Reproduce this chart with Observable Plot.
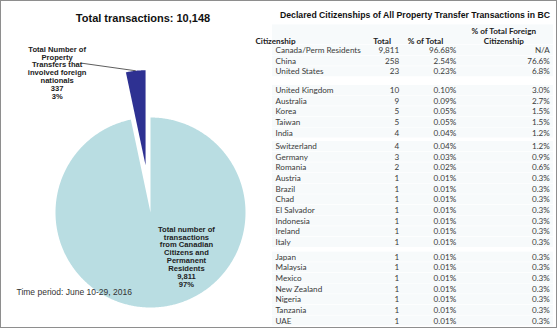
<!DOCTYPE html>
<html><head><meta charset="utf-8">
<script src="https://cdn.jsdelivr.net/npm/d3@7"></script>
<script src="https://cdn.jsdelivr.net/npm/@observablehq/plot@0.6"></script>
<style>
html,body{margin:0;padding:0;background:#fff;}
#frame{position:relative;width:560px;height:331px;overflow:hidden;background:#fff;}
#border{position:absolute;left:0;top:0;width:555px;height:326px;border:1.5px solid #8e8e8e;pointer-events:none;}
#pie{position:absolute;left:0;top:0;}
#table{position:absolute;left:270px;top:0;}
svg{overflow:visible;}
</style></head><body>
<div id="frame"><div id="pie"></div><div id="table"></div><div id="border"></div></div>
<script>
// ---- Pie data ----
const sliceNames = ["Foreign nationals", "Canadian Citizens and Permanent Residents"];
const sliceValues = [337, 9811];
const sliceLabels = [
  "Total Number of\nProperty\nTransfers that\ninvolved foreign\nnationals\n337\n3%",
  "Total number of\ntransactions\nfrom Canadian\nCitizens and\nPermanent\nResidents\n9,811\n97%"
];
const sliceColors = ["#2e3192", "#b9dde2"];
const chartTitle = "Total transactions: 10,148";
const timePeriod = "Time period: June 10-29, 2016";

// ---- Table data ----
const tableTitle = "Declared Citizenships of All Property Transfer Transactions in BC";
const columnHeaders = ["Citizenship", "Total", "% of Total", "% of Total Foreign\nCitizenship"];
const citizenships = ["Canada/Perm Residents","China","United States","United Kingdom","Australia","Korea","Taiwan","India","Switzerland","Germany","Romania","Austria","Brazil","Chad","El Salvador","Indonesia","Ireland","Italy","Japan","Malaysia","Mexico","New Zealand","Nigeria","Tanzania","UAE"];
const totals = ["9,811","258","23","10","9","5","5","4","4","3","2","1","1","1","1","1","1","1","1","1","1","1","1","1","1"];
const pctTotal = ["96.68%","2.54%","0.23%","0.10%","0.09%","0.05%","0.05%","0.04%","0.04%","0.03%","0.02%","0.01%","0.01%","0.01%","0.01%","0.01%","0.01%","0.01%","0.01%","0.01%","0.01%","0.01%","0.01%","0.01%","0.01%"];
const pctForeign = ["N/A","76.6%","6.8%","3.0%","2.7%","1.5%","1.5%","1.2%","1.2%","0.9%","0.6%","0.3%","0.3%","0.3%","0.3%","0.3%","0.3%","0.3%","0.3%","0.3%","0.3%","0.3%","0.3%","0.3%","0.3%"];
const groupStarts = [3, 8, 18];

// ================= PIE =================
const W = 270, H = 331, R = 95, CX = 150, CY = 212;
const total = d3.sum(sliceValues);
const a0 = 2 * Math.PI * sliceValues[0] / total;
const arcs = d3.pie().sort(null).startAngle(-a0).endAngle(2 * Math.PI - a0)(sliceValues);
const explode = [0.5, 0];
const slicePts = arcs.map((a, i) => {
  const mid = (a.startAngle + a.endAngle) / 2;
  const ox = explode[i] * Math.sin(mid), oy = explode[i] * Math.cos(mid);
  const pts = [{x: ox, y: oy}];
  const n = Math.max(4, Math.ceil((a.endAngle - a.startAngle) / (Math.PI / 360)));
  for (let k = 0; k <= n; k++) {
    const t = a.startAngle + (a.endAngle - a.startAngle) * k / n;
    pts.push({x: ox + Math.sin(t), y: oy + Math.cos(t)});
  }
  return {pts, mid, ox, oy};
});
// leader for foreign slice
const s0 = slicePts[0];
const leaderEnd = {x: s0.ox + Math.sin(s0.mid), y: s0.oy + Math.cos(s0.mid)};
const leaderStart = {x: leaderEnd.x - 54 / R, y: leaderEnd.y + 7.6 / R};
const s1 = slicePts[1];
const mainLabelPos = {x: 0.5 * Math.sin(s1.mid), y: 0.5 * Math.cos(s1.mid)};

const pie = Plot.plot({
  width: W, height: H, margin: 0,
  x: {domain: [-CX / R, (W - CX) / R], range: [0, W], axis: null},
  y: {domain: [-(H - CY) / R, CY / R], range: [H, 0], axis: null},
  style: {fontFamily: "'Liberation Sans', Arial, sans-serif", background: "transparent"},
  marks: [
    ...slicePts.map((s, i) => Plot.line(s.pts, {x: "x", y: "y", fill: sliceColors[i], stroke: "none", curve: "linear-closed"})),
    Plot.link([0], {x1: () => leaderStart.x, y1: () => leaderStart.y, x2: () => leaderEnd.x, y2: () => leaderEnd.y, stroke: "#333", strokeWidth: 0.8}),
    Plot.text([sliceLabels[0]], {x: () => leaderStart.x, y: () => leaderStart.y, text: d => d, dx: -24.5, dy: 9.6, fontSize: 7.6, fontWeight: "bold", lineHeight: 1.04, textAnchor: "middle", lineAnchor: "middle", fill: "#222"}),
    Plot.text([sliceLabels[1]], {x: () => mainLabelPos.x, y: () => mainLabelPos.y, text: d => d, dx: 31, dy: -3, fontSize: 7.6, fontWeight: "bold", lineHeight: 1.04, textAnchor: "middle", lineAnchor: "middle", fill: "#222"}),
    Plot.text([chartTitle], {frameAnchor: "top", dx: 7.5, dy: 18.3, lineAnchor: "middle", fontSize: 11, fontWeight: "bold", fill: "#111"}),
    Plot.text([timePeriod], {frameAnchor: "bottom-left", dx: 16, dy: -39, lineAnchor: "middle", textAnchor: "start", fontSize: 8.5, fill: "#333"})
  ]
});
document.getElementById("pie").appendChild(pie);

// ================= TABLE =================
const TW = 290, TX0 = 270, ROW = 10.65, Y0 = 50;
const gapExtra = [0.75, 0.27, 0.38];
const rowPos = citizenships.map((_, i) => {
  let g = 0;
  groupStarts.forEach((s, k) => { if (i >= s) g += gapExtra[k]; });
  return i + g;
});
const rows = citizenships.map((c, i) => ({c, t: totals[i], p: pctTotal[i], f: pctForeign[i], pos: rowPos[i]}));
const colX = {name: 275, total: 398.7, pct: 455.7, foreign: 549.3};
const headX = [275, 381.7, 425, 503.3];
const headers = columnHeaders.map((h, i) => ({h, x: headX[i], anchor: i === 0 ? "start" : "middle"}));
const tableFont = "Lato, 'Noto Sans', sans-serif";
const FS = 8.15;

const table = Plot.plot({
  width: TW, height: H, margin: 0,
  x: {domain: [TX0, TX0 + TW], range: [0, TW], axis: null},
  y: {domain: [-Y0 / ROW, (H - Y0) / ROW], range: [0, H], axis: null},
  style: {fontFamily: tableFont, background: "transparent"},
  marks: [
    Plot.rect(rows, {x1: 272, x2: 553, y1: d => d.pos - 0.47, y2: d => d.pos + 0.47, fill: "#f7fafb"}),
    Plot.rect([0], {x1: 272, x2: 553, y1: -2.4, y2: -0.53, fill: "#f7fafb"}),
    Plot.text([tableTitle], {x: 414.5, y: (15 - Y0) / ROW, text: d => d, fontFamily: "'Liberation Sans', Arial, sans-serif", fontWeight: "bold", fontSize: 8.7, fill: "#111", textAnchor: "middle"}),
    Plot.text(headers, {x: "x", y: -1, text: "h", textAnchor: d => d.anchor, lineAnchor: "bottom", dy: 4, fontWeight: "bold", fontSize: FS, lineHeight: 1.2, fill: "#222"}),
    Plot.text(rows, {x: colX.name, y: "pos", text: "c", textAnchor: "start", fontSize: FS, fill: "#3a3a3a"}),
    Plot.text(rows, {x: colX.total, y: "pos", text: "t", textAnchor: "end", fontSize: FS, fill: "#3a3a3a"}),
    Plot.text(rows, {x: colX.pct, y: "pos", text: "p", textAnchor: "end", fontSize: FS, fill: "#3a3a3a"}),
    Plot.text(rows, {x: colX.foreign, y: "pos", text: "f", textAnchor: "end", fontSize: FS, fill: "#3a3a3a"})
  ]
});
document.getElementById("table").appendChild(table);
</script>
</body></html>
